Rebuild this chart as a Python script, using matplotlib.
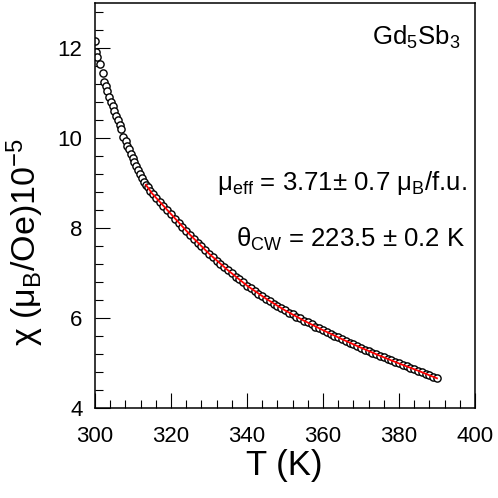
import matplotlib
matplotlib.use("Agg")
import matplotlib.pyplot as plt
from matplotlib.ticker import MultipleLocator

plt.rcParams['font.family'] = ['Liberation Sans', 'DejaVu Sans']
plt.rcParams['mathtext.fontset'] = 'custom'
plt.rcParams['mathtext.rm'] = 'Liberation Sans'
plt.rcParams['mathtext.it'] = 'Liberation Sans:italic'
plt.rcParams['mathtext.bf'] = 'Liberation Sans:bold'

T_bas = [300.0, 300.3, 300.6, 301.3, 302.0, 302.4, 302.9, 303.2, 303.8, 304.2,
         304.7, 305.0, 305.5, 306.1, 306.5, 306.8, 307.4, 308.1, 308.5, 308.9,
         309.4, 309.9, 310.3, 310.8, 311.4, 311.8, 312.3, 312.9, 313.4, 314.0,
         314.6, 315.3]
chi_bas = [12.16, 11.91, 11.79, 11.65, 11.44, 11.24, 11.15, 11.05, 10.92, 10.81,
           10.70, 10.61, 10.48, 10.39, 10.29, 10.20, 10.03, 9.93, 9.83, 9.75,
           9.65, 9.56, 9.47, 9.38, 9.28, 9.19, 9.11, 9.03, 8.96, 8.90,
           8.83, 8.75]

T_haut = [316, 317, 318, 319, 320, 321, 322, 323, 324, 325, 326, 327, 328, 329,
          330, 331, 332, 333, 334, 335, 336, 337, 338, 339, 340, 341, 342, 343,
          344, 345, 346, 347, 348, 349, 350, 351, 352, 353, 354, 355, 356, 357,
          358, 359, 360, 361, 362, 363, 364, 365, 366, 367, 368, 369, 370, 371,
          372, 373, 374, 375, 376, 377, 378, 379, 380, 381, 382, 383, 384, 385,
          386, 387, 388, 389, 390]
chi_haut = [8.67, 8.58, 8.49, 8.40, 8.31, 8.21, 8.12, 8.03, 7.94, 7.85, 7.76, 7.67,
            7.59, 7.51, 7.43, 7.35, 7.27, 7.20, 7.13, 7.06, 6.99, 6.92, 6.86, 6.79,
            6.72, 6.66, 6.60, 6.54, 6.48, 6.43, 6.37, 6.32, 6.27, 6.22, 6.17, 6.12,
            6.08, 6.03, 5.99, 5.94, 5.90, 5.86, 5.81, 5.77, 5.73, 5.69, 5.65, 5.61,
            5.57, 5.53, 5.49, 5.45, 5.42, 5.38, 5.34, 5.30, 5.27, 5.23, 5.20, 5.16,
            5.13, 5.09, 5.06, 5.02, 4.99, 4.96, 4.93, 4.89, 4.86, 4.83, 4.80, 4.76,
            4.73, 4.70, 4.66]

# ajustement Curie-Weiss (ligne rouge)
T_fit = [313.4, 315, 320, 325, 330, 335, 340, 345, 350, 355, 360, 365, 370, 375,
         380, 385, 390]
chi_fit = [8.96, 8.77, 8.31, 7.85, 7.43, 7.06, 6.72, 6.43, 6.17, 5.94, 5.73, 5.53,
           5.34, 5.16, 4.99, 4.83, 4.66]

fig = plt.figure(figsize=(4.98, 4.98), dpi=100)
ax = fig.add_axes([95 / 498, 90 / 498, 380 / 498, 405 / 498])

ax.plot(T_bas + T_haut, chi_bas + chi_haut, 'o', ms=5.2, mfc='white', mec='black',
        mew=1.0, zorder=2)
ax.plot(T_fit, chi_fit, '-', c='red', lw=1.3, zorder=3)

ax.set_xlim(300, 400)
ax.set_ylim(4, 13)
ax.xaxis.set_major_locator(MultipleLocator(20))
ax.xaxis.set_minor_locator(MultipleLocator(4))
ax.yaxis.set_major_locator(MultipleLocator(2))
ax.yaxis.set_minor_locator(MultipleLocator(0.4))
ax.tick_params(which='both', direction='in', top=False, right=False, width=0.8,
               labelsize=16)
ax.tick_params(which='major', length=11)
ax.tick_params(which='minor', length=5.5)
ax.tick_params(axis='x', pad=13)
ax.tick_params(axis='y', pad=9)
for s in ax.spines.values():
    s.set_linewidth(1.1)

ax.set_xlabel('T (K)', fontsize=25)
ax.xaxis.set_label_coords(0.497, -0.10)
ax.set_ylabel(r'χ (μ$_{\rm B}$/Oe)10$^{-5}$', fontsize=24.5)
ax.yaxis.set_label_coords(-0.13, 0.41)

ax.text(0.961, 0.896, r'Gd$_5$Sb$_3$', transform=ax.transAxes, ha='right',
        va='baseline', fontsize=18.5)
ax.text(0.979, 0.538, r'μ$_{\rm eff}$ = 3.71± 0.7 μ$_{\rm B}$/f.u.',
        transform=ax.transAxes, ha='right', va='baseline', fontsize=18.5)
ax.text(0.974, 0.397, r'θ$_{\rm CW}$ = 223.5 ± 0.2 K', transform=ax.transAxes,
        ha='right', va='baseline', fontsize=18.5)

fig.savefig('out.png', dpi=100)
